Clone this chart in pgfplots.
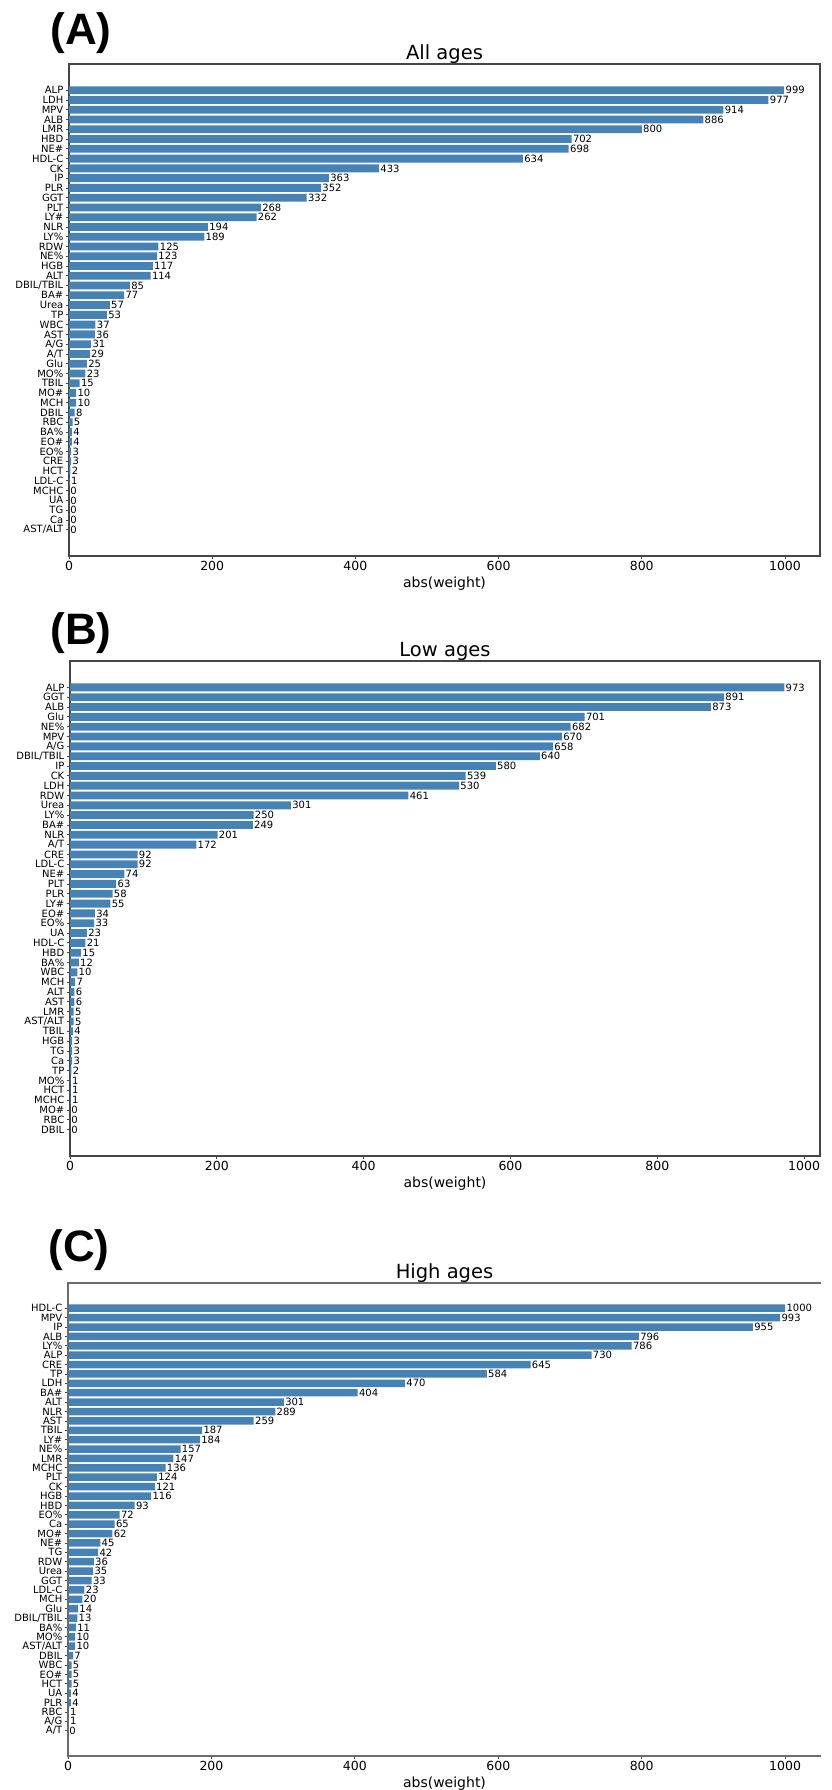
\documentclass[border=0pt]{standalone}
\usepackage{fontspec}
\setmainfont{DejaVu Sans}
\newfontfamily\panelfont{Liberation Sans}
\usepackage{pgfplots}
\pgfplotsset{compat=1.18}

\definecolor{barblue}{RGB}{70,130,180}
\definecolor{spine}{RGB}{70,70,70}

% common look of the three horizontal bar panels
\pgfplotsset{
  wpanel/.style={
    scale only axis,
    xbar,
    xmin=0,
    ymin=-2.69, ymax=47.69,
    ytick={0,...,45},
    xtick={0,200,400,600,800,1000},
    tick pos=left,
    bar width=0.8,
    tick align=outside,
    major tick length=3.5pt,
    tick style={spine, line width=0.8pt},
    axis line style={spine, line width=1.1pt},
    yticklabel style={font=\fontsize{10}{10}\selectfont, inner sep=2pt},
    xticklabel style={font=\fontsize{12.5}{13}\selectfont, inner sep=2pt},
    /pgf/number format/assume math mode=true,
    /pgf/number format/1000 sep={},
    xlabel={abs(weight)},
    every axis x label/.style={at={(axis description cs:0.5,0)}, anchor=base, yshift=-32pt,
      font=\fontsize{14}{15}\selectfont},
    every axis title/.style={at={(axis description cs:0.5,1)}, anchor=base, yshift=4pt,
      font=\fontsize{19.5}{20}\selectfont},
    point meta=x,
    nodes near coords,
    nodes near coords align={horizontal},
    every node near coord/.append style={font=\fontsize{10}{10}\selectfont, inner sep=1.2pt, black},
    clip=false,
  },
}

\begin{document}
\begin{tikzpicture}
\path[use as bounding box] (0,0) rectangle (832pt,1790pt);

% ---------------- (A) All ages ----------------
\begin{axis}[wpanel,
  at={(69pt,1234pt)}, anchor=south west,
  width=751pt, height=492pt,
  xmax=1048.95,
  title={All ages},
  yticklabels={AST/ALT,Ca,TG,UA,MCHC,LDL-C,HCT,CRE,EO\%,EO\#,BA\%,RBC,DBIL,MCH,MO\#,TBIL,MO\%,Glu,A/T,A/G,AST,WBC,TP,Urea,BA\#,DBIL/TBIL,ALT,HGB,NE\%,RDW,LY\%,NLR,LY\#,PLT,GGT,PLR,IP,CK,HDL-C,NE\#,HBD,LMR,ALB,MPV,LDH,ALP},
]
\addplot[fill=barblue, draw=none] coordinates {
  (999,45) (977,44) (914,43) (886,42) (800,41) (702,40) (698,39) (634,38)
  (433,37) (363,36) (352,35) (332,34) (268,33) (262,32) (194,31) (189,30)
  (125,29) (123,28) (117,27) (114,26) (85,25) (77,24) (57,23) (53,22)
  (37,21) (36,20) (31,19) (29,18) (25,17) (23,16) (15,15) (10,14)
  (10,13) (8,12) (5,11) (4,10) (4,9) (3,8) (3,7) (2,6)
  (1,5) (0,4) (0,3) (0,2) (0,1) (0,0)
};
\end{axis}

% ---------------- (B) Low ages ----------------
\begin{axis}[wpanel,
  at={(70pt,634pt)}, anchor=south west,
  width=750pt, height=495pt,
  xmax=1021.65,
  title={Low ages},
  yticklabels={DBIL,RBC,MO\#,MCHC,HCT,MO\%,TP,Ca,TG,HGB,TBIL,AST/ALT,LMR,AST,ALT,MCH,WBC,BA\%,HBD,HDL-C,UA,EO\%,EO\#,LY\#,PLR,PLT,NE\#,LDL-C,CRE,A/T,NLR,BA\#,LY\%,Urea,RDW,LDH,CK,IP,DBIL/TBIL,A/G,MPV,NE\%,Glu,ALB,GGT,ALP},
]
\addplot[fill=barblue, draw=none] coordinates {
  (973,45) (891,44) (873,43) (701,42) (682,41) (670,40) (658,39) (640,38)
  (580,37) (539,36) (530,35) (461,34) (301,33) (250,32) (249,31) (201,30)
  (172,29) (92,28) (92,27) (74,26) (63,25) (58,24) (55,23) (34,22)
  (33,21) (23,20) (21,19) (15,18) (12,17) (10,16) (7,15) (6,14)
  (6,13) (5,12) (5,11) (4,10) (3,9) (3,8) (3,7) (2,6)
  (1,5) (1,4) (1,3) (0,2) (0,1) (0,0)
};
\end{axis}

% ---------------- (C) High ages ----------------
\begin{axis}[wpanel,
  at={(68pt,34pt)}, anchor=south west,
  width=753pt, height=473pt,
  xmax=1050,
  axis line style={draw=none},
  title={High ages},
  yticklabels={A/T,A/G,RBC,PLR,UA,HCT,EO\#,WBC,DBIL,AST/ALT,MO\%,BA\%,DBIL/TBIL,Glu,MCH,LDL-C,GGT,Urea,RDW,TG,NE\#,MO\#,Ca,EO\%,HBD,HGB,CK,PLT,MCHC,LMR,NE\%,LY\#,TBIL,AST,NLR,ALT,BA\#,LDH,TP,CRE,ALP,LY\%,ALB,IP,MPV,HDL-C},
]
\addplot[fill=barblue, draw=none] coordinates {
  (1000,45) (993,44) (955,43) (796,42) (786,41) (730,40) (645,39) (584,38)
  (470,37) (404,36) (301,35) (289,34) (259,33) (187,32) (184,31) (157,30)
  (147,29) (136,28) (124,27) (121,26) (116,25) (93,24) (72,23) (65,22)
  (62,21) (45,20) (42,19) (36,18) (35,17) (33,16) (23,15) (20,14)
  (14,13) (13,12) (11,11) (10,10) (10,9) (7,8) (5,7) (5,6)
  (5,5) (4,4) (4,3) (1,2) (1,1) (0,0)
};
% frame without the right spine
\draw[spine!80, line width=1.1pt] (rel axis cs:1,0) -- (rel axis cs:0,0) -- (rel axis cs:0,1) -- (rel axis cs:1,1);
\end{axis}

% panel letters
\node[font=\panelfont\bfseries\fontsize{44}{44}\selectfont] at (81pt,1757pt) {(A)};
\node[font=\panelfont\bfseries\fontsize{44}{44}\selectfont] at (81pt,1157pt) {(B)};
\node[font=\panelfont\bfseries\fontsize{44}{44}\selectfont] at (79pt,540pt) {(C)};
\end{tikzpicture}
\end{document}
